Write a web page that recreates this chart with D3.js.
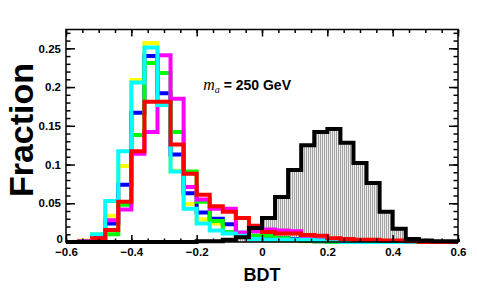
<!DOCTYPE html>
<html>
<head>
<meta charset="utf-8">
<script src="https://cdn.jsdelivr.net/npm/d3@7"></script>
<style>
body { margin: 0; background: #fff; }
svg { display: block; font-family: "Liberation Sans", Arial, sans-serif; }
.tick text { font-size: 11.5px; font-weight: bold; fill: #000; }
.tick line { stroke: #000; stroke-width: 1.5; }
</style>
</head>
<body>
<div id="chart"></div>
<script>
// 30 bins of width 0.04 from -0.6 to 0.6
let binLow = -0.6;
let binWidth = 0.04;

// signal (black, filled)
let signal = [0, 0, 0, 0, 0, 0, 0, 0, 0, 0,
    0.001, 0.001, 0.003, 0.006, 0.018, 0.031, 0.058, 0.093, 0.125, 0.142,
    0.146, 0.128, 0.102, 0.076, 0.039, 0.017, 0.004, 0.002, 0.001, 0.001];

// backgrounds
let bkgYellow = [0, 0.002, 0.010, 0.034, 0.098, 0.209, 0.257, 0.178, 0.092, 0.049,
    0.029, 0.024, 0.013, 0.009, 0.006, 0.004, 0.003, 0.002, 0.001, 0.001,
    0, 0, 0, 0, 0, 0, 0, 0, 0, 0];
let bkgBlue = [0, 0.001, 0.006, 0.024, 0.074, 0.167, 0.240, 0.192, 0.113, 0.063,
    0.038, 0.030, 0.023, 0.012, 0.006, 0.006, 0.005, 0.004, 0.002, 0.001,
    0, 0, 0, 0, 0, 0, 0, 0, 0, 0];
let bkgGreen = [0, 0.001, 0.003, 0.010, 0.048, 0.138, 0.231, 0.218, 0.142, 0.091,
    0.052, 0.027, 0.013, 0.010, 0.008, 0.008, 0.005, 0.003, 0.002, 0.001,
    0, 0, 0, 0, 0, 0, 0, 0, 0, 0];
let bkgMagenta = [0, 0.001, 0.004, 0.028, 0.042, 0.114, 0.142, 0.241, 0.185, 0.071,
    0.055, 0.043, 0.043, 0.012, 0.014, 0.016, 0.015, 0.014, 0.004, 0.003,
    0.002, 0.001, 0, 0, 0, 0, 0, 0, 0, 0];
let bkgCyan = [0, 0, 0.010, 0.053, 0.117, 0.206, 0.251, 0.177, 0.091, 0.043,
    0.024, 0.015, 0.011, 0.008, 0.004, 0.003, 0.003, 0.003, 0.003, 0.002,
    0.001, 0, 0, 0, 0, 0, 0, 0, 0, 0];
let bkgRed = [0, 0, 0.005, 0.0155, 0.052, 0.117, 0.181, 0.181, 0.126, 0.088,
    0.061, 0.046, 0.039, 0.031, 0.021, 0.013, 0.011, 0.011, 0.009, 0.008,
    0.005, 0.004, 0.003, 0.003, 0.002, 0.002, 0.001, 0, 0, 0];

// axis ticks
let xTicks = [-0.6, -0.4, -0.2, 0, 0.2, 0.4, 0.6];
let yTicks = [0, 0.05, 0.1, 0.15, 0.2, 0.25];

let svgWidth = 477;
let svgHeight = 307;
let margin = { top: 29.5, right: 19, bottom: 65, left: 66 };
let width = svgWidth - margin.left - margin.right;
let height = svgHeight - margin.top - margin.bottom;

let svg = d3.select('#chart')
    .append('svg')
    .attr('width', svgWidth)
    .attr('height', svgHeight);

// dotted fill like ROOT's hatch style
let defs = svg.append('defs');
let pat = defs.append('pattern')
    .attr('id', 'dots')
    .attr('patternUnits', 'userSpaceOnUse')
    .attr('width', 2)
    .attr('height', 2);
pat.append('rect').attr('width', 2).attr('height', 2).attr('fill', '#fff');
pat.append('rect').attr('width', 1).attr('height', 1).attr('fill', '#444');
pat.append('rect').attr('x', 1).attr('y', 1).attr('width', 1).attr('height', 1).attr('fill', '#d8d8d8');

let chartGroup = svg.append('g')
    .attr('transform', `translate(${margin.left}, ${margin.top})`);

let x = d3.scaleLinear().domain([-0.6, 0.6]).range([0, width]);
let y = d3.scaleLinear().domain([0, 0.2743]).range([height, 0]);

// step outline points for a histogram
function stepPoints(vals) {
    let pts = [[binLow, 0]];
    vals.forEach((v, i) => {
        pts.push([binLow + i * binWidth, v]);
        pts.push([binLow + (i + 1) * binWidth, v]);
    });
    pts.push([binLow + vals.length * binWidth, 0]);
    return pts;
}

let line = d3.line().x(d => x(d[0])).y(d => y(d[1]));
let area = d3.area().x(d => x(d[0])).y0(y(0)).y1(d => y(d[1]));

// signal fill first
chartGroup.append('path')
    .attr('d', area(stepPoints(signal)))
    .attr('fill', 'url(#dots)');

let series = [
    { vals: bkgYellow, color: '#ffff00' },
    { vals: bkgBlue, color: '#0000ff' },
    { vals: bkgGreen, color: '#00ff00' },
    { vals: bkgMagenta, color: '#ff00ff' },
    { vals: bkgCyan, color: '#00ffff' },
    { vals: bkgRed, color: '#ff0000' },
    { vals: signal, color: '#000000' }
];

series.forEach(s => {
    chartGroup.append('path')
        .attr('d', line(stepPoints(s.vals)))
        .attr('fill', 'none')
        .attr('stroke', s.color)
        .attr('stroke-width', 4)
        .attr('stroke-linejoin', 'miter');
});

// axes
let fmt = d3.format('~g');
let xMinor = d3.range(0, 25).map(i => -0.6 + i * 0.05);
let yMinor = d3.range(0, 28).map(i => i * 0.01);

chartGroup.append('g')
    .attr('transform', `translate(0, ${height})`)
    .call(d3.axisBottom(x).tickValues(xTicks).tickSize(-7).tickPadding(6).tickFormat(fmt))
    .call(g => g.select('.domain').remove());
chartGroup.append('g')
    .attr('transform', `translate(0, ${height})`)
    .call(d3.axisBottom(x).tickValues(xMinor).tickSize(-3.5).tickFormat(''))
    .call(g => g.select('.domain').remove());
chartGroup.append('g')
    .call(d3.axisTop(x).tickValues(xTicks).tickSize(-7).tickFormat(''))
    .call(g => g.select('.domain').remove());
chartGroup.append('g')
    .call(d3.axisTop(x).tickValues(xMinor).tickSize(-3.5).tickFormat(''))
    .call(g => g.select('.domain').remove());

chartGroup.append('g')
    .call(d3.axisLeft(y).tickValues(yTicks).tickSize(-9).tickPadding(5).tickFormat(fmt))
    .call(g => g.select('.domain').remove())
    .call(g => g.selectAll('.tick text').filter(d => d === 0).attr('y', -3.5).attr('x', -3));
chartGroup.append('g')
    .call(d3.axisLeft(y).tickValues(yMinor).tickSize(-4.5).tickFormat(''))
    .call(g => g.select('.domain').remove());
chartGroup.append('g')
    .attr('transform', `translate(${width}, 0)`)
    .call(d3.axisRight(y).tickValues(yTicks).tickSize(-9).tickFormat(''))
    .call(g => g.select('.domain').remove());
chartGroup.append('g')
    .attr('transform', `translate(${width}, 0)`)
    .call(d3.axisRight(y).tickValues(yMinor).tickSize(-4.5).tickFormat(''))
    .call(g => g.select('.domain').remove());

// frame
chartGroup.append('rect')
    .attr('width', width)
    .attr('height', height)
    .attr('fill', 'none')
    .attr('stroke', '#000')
    .attr('stroke-width', 1.5);

// axis titles
chartGroup.append('text')
    .attr('x', width / 2)
    .attr('y', height + 39)
    .attr('text-anchor', 'middle')
    .style('font-size', '18px')
    .style('font-weight', 'bold')
    .text('BDT');

svg.append('text')
    .attr('transform', 'translate(33, 130) rotate(-90)')
    .attr('text-anchor', 'middle')
    .style('font-size', '34px')
    .style('font-weight', 'bold')
    .text('Fraction');

// mass label
let label = chartGroup.append('text')
    .attr('x', x(-0.18))
    .attr('y', 60);
label.append('tspan')
    .style('font-family', '"Liberation Serif", serif')
    .style('font-style', 'italic')
    .style('font-size', '16px')
    .text('m');
label.append('tspan')
    .attr('dy', 3)
    .style('font-family', '"Liberation Serif", serif')
    .style('font-style', 'italic')
    .style('font-size', '10px')
    .text('a');
label.append('tspan')
    .attr('dy', -3)
    .style('font-size', '14px')
    .style('font-weight', 'bold')
    .text(' = 250 GeV');
</script>
</body>
</html>
